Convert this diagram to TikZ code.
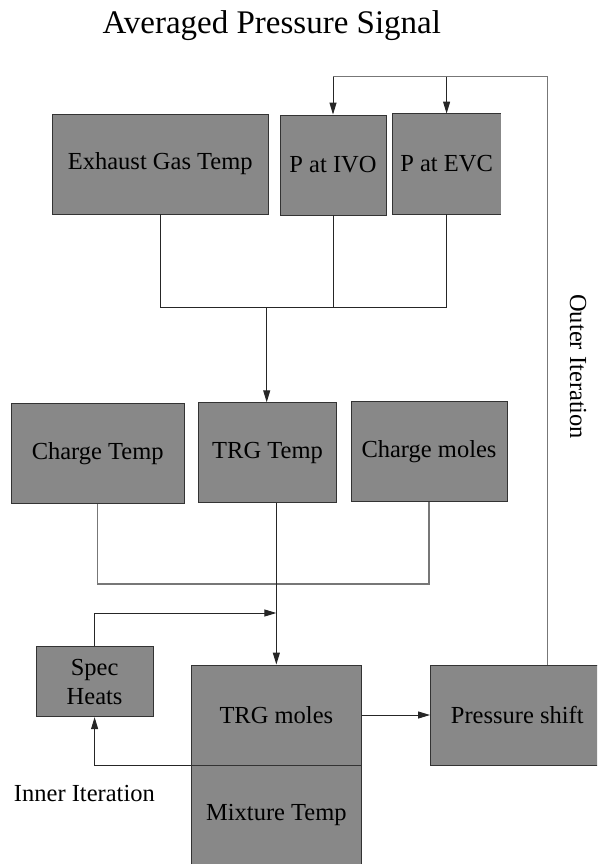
\documentclass[tikz,border=0pt]{standalone}
\usepackage{fontspec}
\setmainfont{Liberation Serif}
\usetikzlibrary{arrows.meta}
\definecolor{boxgray}{HTML}{888888}
\definecolor{boxline}{HTML}{333333}
\definecolor{lightln}{HTML}{777777}
\begin{document}
\begin{tikzpicture}[x=1pt,y=-1pt,
  blk/.style={draw=boxline, line width=0.9pt, fill=boxgray, inner sep=0pt,
    font=\fontsize{24.5}{29}\selectfont, align=center, minimum height=100pt},
  ln/.style={line width=1pt, draw=black!85},
  arr/.style={ln, -{Triangle[length=12pt,width=7pt]}},
  gl/.style={line width=1.2pt, draw=lightln},
  lbl/.style={font=\fontsize{24.5}{29}\selectfont, inner sep=0pt}]
\useasboundingbox (0,0) rectangle (597,864);
\clip (0,0) rectangle (597,864);

% title
\node[font=\fontsize{33}{40}\selectfont, anchor=base, inner sep=0pt] (title) at (271.8,33.3) {Averaged Pressure Signal};

% top row
\node[blk, minimum width=215.5pt] (exh) at (160.25,164) {Exhaust Gas Temp};
\node[blk, minimum width=106pt] (ivo) at (333,165) {P at IVO};
\node[blk, draw=none, minimum width=107.8pt] (evc) at (446.6,164) {P at EVC};
\draw[draw=boxline, line width=0.9pt] (evc.north east) -- (evc.north west) -- (evc.south west) -- (evc.south east);

% middle row
\node[blk, minimum width=172.6pt] (ctemp) at (97.7,453.3) {Charge Temp};
\node[blk, minimum width=137.5pt] (trgt) at (267.5,452.7) {TRG Temp};
\node[blk, minimum width=155.9pt] (cmol) at (429,451.7) {Charge moles};

% bottom
\node[blk, minimum width=116.8pt, minimum height=70pt] (spec) at (94.6,681.7) {Spec\\Heats};
\node[blk, minimum width=170.7pt] (trgm) at (276.35,715) {TRG moles};
\node[blk, minimum width=170.7pt] (mixt) at (276.35,815) {Mixture Temp};
\node[blk, minimum width=173.5pt] (pshift) at (517.25,715) {Pressure shift};

% labels
\node[lbl, anchor=base] (inner) at (84.4,801) {Inner Iteration};
\node[lbl, rotate=-90] (outer) at (578,366.7) {Outer Iteration};

% junction coordinates
\coordinate (jT) at (266.7,307.7);
\coordinate (jC) at (0,584);
\coordinate (jS) at (0,613);
\coordinate (jO) at (0,76.7);
\coordinate (oB) at (547.6,665);

% top row to TRG Temp
\draw[ln] (exh.south) |- (evc.south |- jT) -- (evc.south);
\draw[ln] (ivo.south) -- (ivo.south |- jT);
\draw[arr] (jT) -- (jT |- trgt.north);

% charge temp / charge moles
\draw[gl] (ctemp.south) |- (cmol.south |- jC) -- (cmol.south);

% TRG Temp to TRG moles
\draw[arr] (trgt.south -| trgm.north) -- (trgm.north);

% spec heats to TRG line
\draw[arr] (spec.north) |- (trgm.north |- jS);

% inner iteration
\draw[arr] (trgm.south west) -| (spec.south);

% TRG moles to pressure shift
\draw[arr] (trgm.east) -- (pshift.west);

% outer iteration
\draw[gl] (oB) |- (ivo.north |- jO);
\draw[arr] (ivo.north |- jO) -- (ivo.north);
\draw[arr] (evc.north |- jO) -- (evc.north);
\end{tikzpicture}
\end{document}
